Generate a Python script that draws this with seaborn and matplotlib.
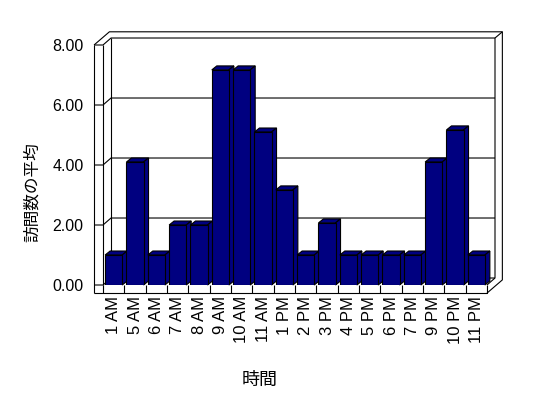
import matplotlib
matplotlib.use('Agg')
import matplotlib.pyplot as plt
import seaborn as sns
import pandas as pd
from matplotlib.patches import Polygon

# 時間帯ごとの訪問数の平均
hours = ['1 AM', '5 AM', '6 AM', '7 AM', '8 AM', '9 AM', '10 AM', '11 AM',
         '1 PM', '2 PM', '3 PM', '4 PM', '5 PM', '6 PM', '7 PM', '9 PM',
         '10 PM', '11 PM']
visits = [1.0, 4.1, 1.0, 2.0, 2.0, 7.17, 7.17, 5.1, 3.17, 1.0, 2.07,
          1.0, 1.0, 1.0, 1.0, 4.1, 5.17, 1.0]
y_ticks = [0, 2, 4, 6, 8]

sns.set_theme(style='white')
plt.rcParams['font.family'] = ['Liberation Sans', 'Noto Sans CJK JP']
for k in ['text.color', 'axes.labelcolor', 'xtick.color', 'ytick.color']:
    plt.rcParams[k] = 'black'
cjk = ['Noto Sans CJK JP', 'DejaVu Sans']

W, H = 548, 398
fig = plt.figure(figsize=(W / 100, H / 100), dpi=100)
fig.patch.set_facecolor('white')
ax = fig.add_axes([103 / W, 1 - 285 / H, 384 / W, 240 / H])

df = pd.DataFrame({'hour': hours, 'visits': visits})
sns.barplot(data=df, x='hour', y='visits', ax=ax, color='#000080',
            saturation=1, width=0.8, edgecolor='black', linewidth=0.8)

L, R, T, B = -0.5, len(hours) - 0.5, 8, 0
ax.set_xlim(L, R)
ax.set_ylim(B, T)

# pseudo-3D frame (walls and floor)
wt, ft = 0.42, 0.27          # wall / floor thickness
d1x, d1y = 0.375, 0.233      # depth to back plane
d2x, d2y = 0.72, 0.44        # depth to outer edge


def seg(xs, ys):
    ax.plot(xs, ys, color='black', lw=0.8, clip_on=False, zorder=1,
            solid_capstyle='butt')


seg([L - wt, L - wt], [T, B - ft])
seg([L, L], [T, B])
for y in y_ticks:
    seg([L - wt, L, L + d1x, R + d1x], [y, y, y + d1y, y + d1y])
seg([L + d1x, L + d1x], [B + d1y, T + d1y])
seg([L - wt, L - wt + d2x, R + d2x, R + d2x, R],
    [T, T + d2y, T + d2y, B - ft + d2y, B - ft])
seg([R + d1x, R + d2x], [T + d1y, T + d2y])
seg([R + d1x, R + d1x, R], [T + d1y, B + d1y, B])
seg([L - wt, R, R], [B - ft, B - ft, B])
for k in range(len(hours)):
    seg([k - 0.5, k - 0.5], [B, B - ft])

# bar tops and sides
bdx, bdy = 0.234, 0.133
for i, p in enumerate(ax.patches):
    x0, w, h = p.get_x(), p.get_width(), p.get_height()
    p.set_zorder(3 + i * 0.1)
    top = Polygon([(x0, h), (x0 + w, h), (x0 + w + bdx, h + bdy), (x0 + bdx, h + bdy)],
                  closed=True, facecolor='#000080', edgecolor='black', lw=0.8,
                  zorder=3 + i * 0.1 - 0.01, clip_on=False)
    side = Polygon([(x0 + w, 0), (x0 + w + bdx, bdy), (x0 + w + bdx, h + bdy), (x0 + w, h)],
                   closed=True, facecolor='#000080', edgecolor='black', lw=0.8,
                   zorder=3 + i * 0.1 - 0.01, clip_on=False)
    ax.add_patch(top)
    ax.add_patch(side)

for s in ax.spines.values():
    s.set_visible(False)
ax.grid(False)
ax.set_facecolor('none')

ax.set_yticks(y_ticks)
ax.set_yticklabels([f'{v:.2f}' for v in y_ticks])
ax.tick_params(axis='y', length=0, pad=14, labelsize=11.5)
ax.tick_params(axis='x', length=0, pad=8, labelsize=12, rotation=90)

ax.set_xlabel('時間', family=cjk, fontsize=13, va='center')
ax.xaxis.set_label_coords((260 - 103) / 384, (285 - 380) / 240)
ax.set_ylabel('訪問数の平均', family=cjk, fontsize=12, va='center')
ax.yaxis.set_label_coords((32 - 103) / 384, (285 - 192) / 240)

fig.savefig('out.png', dpi=100)
